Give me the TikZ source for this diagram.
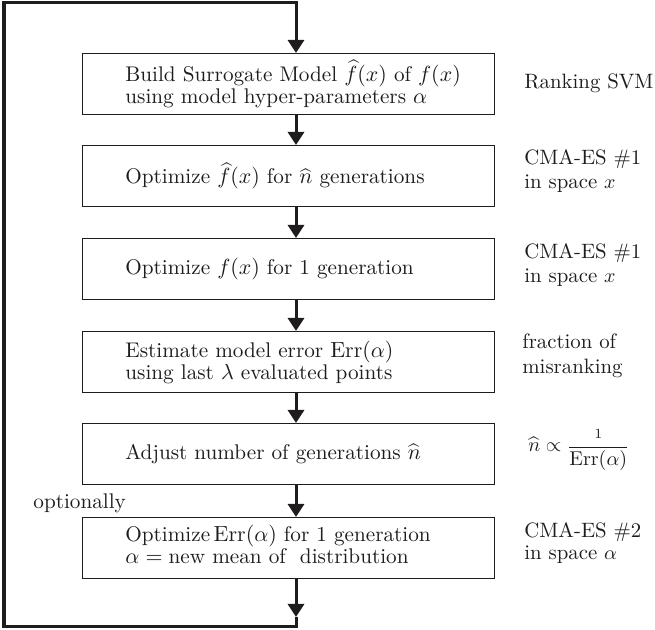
\documentclass[tikz,border=0pt]{standalone}
\usetikzlibrary{arrows.meta,calc}
\definecolor{ink}{RGB}{30,28,28}
\begin{document}
\begin{tikzpicture}[x=0.5pt,y=-0.5pt,
  box/.style={draw=ink, line width=0.7pt, minimum width=206pt, minimum height=30.5pt, inner sep=0pt, anchor=north west},
  txt/.style={font=\fontsize{10.6pt}{11pt}\selectfont, align=left, inner sep=0pt, anchor=west, text=ink},
  side/.style={font=\fontsize{10.4pt}{12.2pt}\selectfont, align=left, inner sep=0pt, anchor=west, text=ink},
  arr/.style={draw=ink, line width=1.5pt, -{Triangle[length=6.5pt,width=8pt]}},
  loopline/.style={draw=ink, line width=1.5pt, line join=miter}
]
\useasboundingbox (0,0) rectangle (655,630);
\coordinate (ax) at (296,0);
% boxes
\node[box] (b1) at (82,53) {};
\node[box] (b2) at (82,145) {};
\node[box] (b3) at (82,238) {};
\node[box] (b4) at (82,331) {};
\node[box] (b5) at (82,423) {};
\node[box] (b6) at (82,517) {};
% box texts
\node[txt] (t1) at ([xshift=21.5pt]b1.west) {Build Surrogate Model $\widehat{f}(x)$ of $f(x)$\\using model hyper-parameters $\alpha$};
\node[txt] (t2) at ([xshift=21.5pt]b2.west) {Optimize $\widehat{f}(x)$ for $\widehat{n}$ generations};
\node[txt] (t3) at ([xshift=21.5pt]b3.west) {Optimize $f(x)$ for 1 generation};
\node[txt] (t4) at ([xshift=21.5pt]b4.west) {Estimate model error $\mathrm{Err}(\alpha)$\\using last $\lambda$ evaluated points};
\node[txt] (t5) at ([xshift=21.5pt]b5.west) {Adjust number of generations $\widehat{n}$};
\node[txt] (t6) at ([xshift=21.5pt,yshift=2pt]b6.west) {Optimize\,$\mathrm{Err}(\alpha)$ for 1 generation\\$\alpha=\mbox{new mean of\ \ distribution}$};
% side labels
\node[side] (s1) at (524,83) {Ranking SVM};
\node[side] (s2) at (524,171) {CMA-ES \#1\\in space $x$};
\node[side] (s3) at (524,265) {CMA-ES \#1\\in space $x$};
\node[side] (s4) at (522,356) {fraction of\\misranking};
\node[side] (s5) at (528,450) {$\widehat{n}\propto\displaystyle\frac{\scriptstyle 1}{\mathrm{Err}(\alpha)}$};
\node[side, font=\fontsize{10.4pt}{10.8pt}\selectfont] (s6) at (524,543) {CMA-ES \#2\\in space $\alpha$};
\node[txt] (opt) at (33,503) {optionally};
% connectors
\draw[arr] (b1.south -| ax) -- (b2.north -| ax);
\draw[arr] (b2.south -| ax) -- (b3.north -| ax);
\draw[arr] (b3.south -| ax) -- (b4.north -| ax);
\draw[arr] (b4.south -| ax) -- (b5.north -| ax);
\draw[arr] (b5.south -| ax) -- (b6.north -| ax);
\coordinate (tip6) at (296,617);
\coordinate (lb) at (296,627);
\coordinate (c1) at (4,627);
\coordinate (c2) at (4,2.5);
\coordinate (c3) at (296,2.5);
\draw[arr] (b6.south -| ax) -- (tip6);
\draw[loopline, -{Triangle[length=6.5pt,width=8pt]}] (tip6) -- (lb) -- (c1) -- (c2) -- (c3) -- (b1.north -| ax);
\end{tikzpicture}
\end{document}
